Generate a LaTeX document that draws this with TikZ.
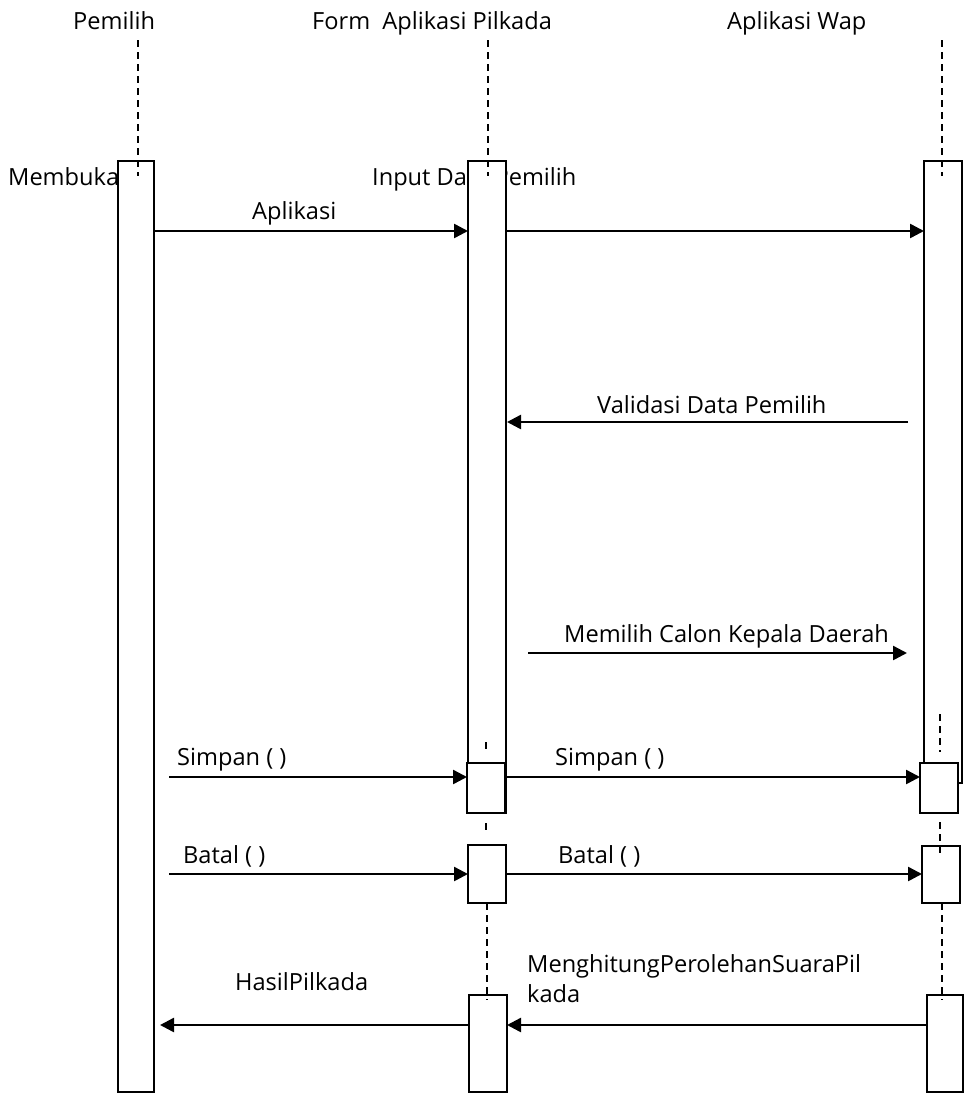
\documentclass[tikz,border=0pt]{standalone}
\usepackage{fontspec}
\setmainfont{Open Sans}
\usetikzlibrary{arrows.meta}
\begin{document}
\begin{tikzpicture}[x=1pt,y=-1pt,
  lbl/.style={anchor=base west,inner sep=0pt,font=\fontsize{23.6}{30}\selectfont},
  actbox/.style={draw,fill=white,line width=1.5pt,inner sep=0pt,outer sep=0pt},
  life/.style={line width=1.5pt,dash pattern=on 7pt off 5pt},
  msg/.style={line width=2.5pt,-{Triangle[length=14pt,width=14pt]}}]
\useasboundingbox (0,0) rectangle (966,1095);
% headers
\node[lbl] (hP) at (73,29) {Pemilih};
\node[lbl] (hF) at (312,29) {Form\ \ Aplikasi Pilkada};
\node[lbl] (hW) at (727,29) {Aplikasi Wap};
% labels hidden partly behind boxes
\node[lbl] (lMem) at (8,185) {Membuka};
\node[lbl] (lInp) at (372,185) {Input Data Pemilih};
% activation boxes
\node[actbox,minimum width=36pt,minimum height=931pt] (pA) at (136,626.5) {};
\node[actbox,minimum width=38pt,minimum height=652pt] (fA) at (487,487) {};
\node[actbox,minimum width=38pt,minimum height=50pt] (fN) at (486,788) {};
\node[actbox,minimum width=38pt,minimum height=58pt] (fB) at (487,874) {};
\node[actbox,minimum width=38pt,minimum height=97pt] (fC) at (488,1043.5) {};
\node[actbox,minimum width=38pt,minimum height=622pt] (wA) at (943,472) {};
\node[actbox,minimum width=38pt,minimum height=50pt] (wN) at (939,788) {};
\node[actbox,minimum width=38pt,minimum height=57pt] (wB) at (941,874.5) {};
\node[actbox,minimum width=36pt,minimum height=97pt] (wC) at (945,1043.5) {};
% lifeline coordinates
\coordinate (pT) at (138,40); \coordinate (pE) at (138,176);
\coordinate (fT) at (488,40); \coordinate (fE) at (488,176);
\coordinate (wT) at (942,40); \coordinate (wE) at (942,176);
\coordinate (f1a) at (486,742); \coordinate (f1b) at (486,754);
\coordinate (f2a) at (486,823); \coordinate (f2b) at (486,835);
\coordinate (f3a) at (487,903); \coordinate (f3b) at (487,1000);
\coordinate (w1a) at (940,714); \coordinate (w1b) at (940,752);
\coordinate (w2a) at (940,822); \coordinate (w2b) at (940,853);
\coordinate (w3a) at (942,903); \coordinate (w3b) at (942,1000);
\draw[life] (pT) -- (pE);
\draw[life] (fT) -- (fE);
\draw[life] (wT) -- (wE);
\draw[life] (f1a) -- (f1b);
\draw[life] (f2a) -- (f2b);
\draw[life] (f3a) -- (f3b);
\draw[life] (w1a) -- (w1b);
\draw[life] (w2a) -- (w2b);
\draw[life] (w3a) -- (w3b);
% message coordinates
\coordinate (m1s) at (154,231); \coordinate (m1e) at (468,231);
\coordinate (m2s) at (506,231); \coordinate (m2e) at (924,231);
\coordinate (m3s) at (908,422); \coordinate (m3e) at (507,422);
\coordinate (m4s) at (528,653); \coordinate (m4e) at (907,653);
\coordinate (m5s) at (169,777); \coordinate (m5e) at (467,777);
\coordinate (m6s) at (505,777); \coordinate (m6e) at (920,777);
\coordinate (m7s) at (169,874); \coordinate (m7e) at (468,874);
\coordinate (m8s) at (507,874); \coordinate (m8e) at (922,874);
\coordinate (m9s) at (927,1025); \coordinate (m9e) at (507,1025);
\coordinate (m10s) at (469,1025); \coordinate (m10e) at (160,1025);
\draw[msg] (m1s) -- (m1e);
\draw[msg] (m2s) -- (m2e);
\draw[msg] (m3s) -- (m3e);
\draw[msg] (m4s) -- (m4e);
\draw[msg] (m5s) -- (m5e);
\draw[msg] (m6s) -- (m6e);
\draw[msg] (m7s) -- (m7e);
\draw[msg] (m8s) -- (m8e);
\draw[msg] (m9s) -- (m9e);
\draw[msg] (m10s) -- (m10e);
% message labels
\node[lbl] (lApl) at (252,219) {Aplikasi};
\node[lbl] (lVal) at (597,413) {Validasi Data Pemilih};
\node[lbl] (lCal) at (564,642) {Memilih Calon Kepala Daerah};
\node[lbl] (lS1) at (177,765) {Simpan ( )};
\node[lbl] (lS2) at (555,765) {Simpan ( )};
\node[lbl] (lB1) at (183,863) {Batal ( )};
\node[lbl] (lB2) at (558,863) {Batal ( )};
\node[lbl] (lHas) at (235,990) {HasilPilkada};
\node[lbl] (lMg1) at (527,972) {MenghitungPerolehanSuaraPil};
\node[lbl] (lMg2) at (527,1002) {kada};
\end{tikzpicture}
\end{document}
